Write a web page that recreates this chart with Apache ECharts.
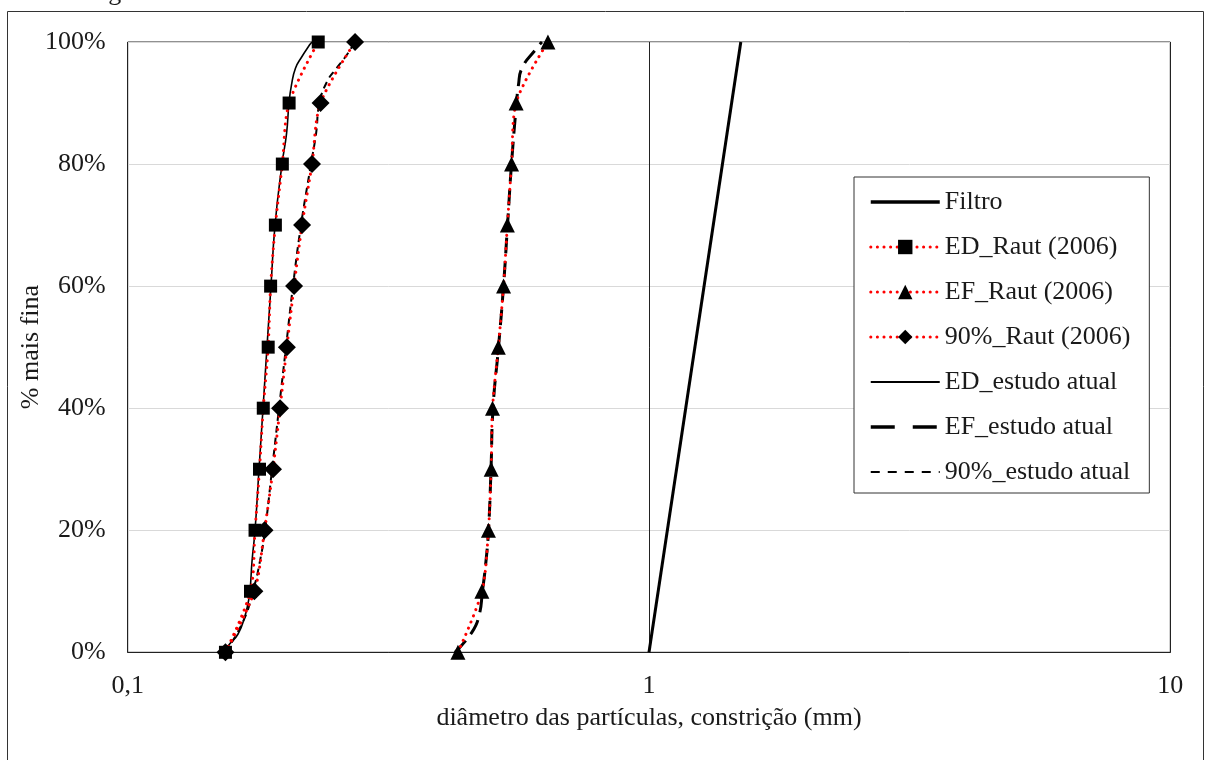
<!DOCTYPE html>
<html>
<head>
<meta charset="utf-8">
<script src="https://cdn.jsdelivr.net/npm/echarts@6/dist/echarts.min.js"></script>
<style>
  html, body { margin: 0; padding: 0; background: #fff; }
  #chart { width: 1206px; height: 760px; }
</style>
</head>
<body>
<div id="chart"></div>
<script>
// % mais fina (eixo y) para as curvas de Raut (2006)
var pctRaut = [0, 10, 20, 30, 40, 50, 60, 70, 80, 90, 100]
// diâmetros (mm)
var edRaut = [0.154, 0.172, 0.1755, 0.179, 0.182, 0.186, 0.188, 0.192, 0.198, 0.204, 0.232]
var efRaut = [0.430, 0.478, 0.492, 0.498, 0.501, 0.514, 0.526, 0.535, 0.545, 0.556, 0.640]
var p90Raut = [0.154, 0.175, 0.183, 0.190, 0.196, 0.202, 0.2085, 0.216, 0.2257, 0.2344, 0.273]

// estudo atual
var edEstudoPct = [0, 1, 3, 6, 8, 10, 15, 20, 30, 40, 50, 60, 70, 80, 85, 90, 93, 95.7, 97.5, 99.5, 100]
var edEstudo = [0.1538, 0.1557, 0.1628, 0.1679, 0.1701, 0.1716, 0.1732, 0.1755, 0.1786, 0.1818, 0.185, 0.1883, 0.1917, 0.1977, 0.2017, 0.2039, 0.2062, 0.2098, 0.2155, 0.2232, 0.2257]
var efEstudoPct = [0, 3.3, 6, 10, 15, 20, 30, 40, 50, 60, 70, 80, 90, 93, 95.6, 99, 100]
var efEstudo = [0.4244, 0.4576, 0.472, 0.4792, 0.4868, 0.4922, 0.4977, 0.5021, 0.5144, 0.5259, 0.5353, 0.5448, 0.557, 0.5619, 0.5699, 0.6089, 0.6233]
var p90EstudoPct = [0, 5, 10, 15, 20, 30, 40, 50, 60, 70, 80, 85, 90, 93.5, 95.7, 97.7, 99.5]
var p90Estudo = [0.1538, 0.1664, 0.1739, 0.1794, 0.1834, 0.1892, 0.1951, 0.2012, 0.2075, 0.215, 0.2247, 0.2298, 0.2333, 0.2412, 0.2515, 0.2623, 0.2705]

// filtro
var filtroPct = [0, 100]
var filtroD = [1, 1.5]

var font = "'Liberation Serif', 'Times New Roman', serif"
var txt = '#1a1a1a'
var fs = 26
// esconde o marcador na legenda das séries só de linha
var soLinha = { opacity: 0 }
var pontilhado = { color: '#ff0000', width: 3, type: [0.1, 6.5], cap: 'round' }

function pares(d, p) {
  return d.map(function(v, i) { return [v, p[i]] })
}

var chart = echarts.init(document.getElementById('chart'))

var option = {
  animation: false,
  backgroundColor: '#fff',
  textStyle: { fontFamily: font, color: txt },
  graphic: [
    {
      type: 'rect',
      shape: { x: 7.5, y: 11.5, width: 1196, height: 760 },
      style: { fill: 'none', stroke: '#333', lineWidth: 1 },
      silent: true
    },
    {
      type: 'text',
      left: 10,
      top: -20,
      style: { text: 'metodologia atual.', font: fs + 'px ' + font, fill: txt },
      silent: true
    }
  ],
  grid: {
    left: 127.7,
    right: 35.7,
    top: 42,
    bottom: 107.7,
    show: true,
    borderColor: '#222',
    borderWidth: 1
  },
  legend: {
    orient: 'vertical',
    left: 854,
    top: 177,
    padding: [12, 19, 8, 15],
    itemGap: 19,
    itemWidth: 69,
    itemHeight: 18,
    borderColor: '#333',
    borderWidth: 1,
    backgroundColor: '#fff',
    textStyle: { fontFamily: font, fontSize: fs, color: txt, lineHeight: 25 },
    data: [
      { name: 'Filtro', itemStyle: soLinha, lineStyle: { width: 3.5 } },
      { name: 'ED_Raut (2006)', lineStyle: { width: 3 } },
      { name: 'EF_Raut (2006)', lineStyle: { width: 3 } },
      { name: '90%_Raut (2006)', lineStyle: { width: 3 } },
      { name: 'ED_estudo atual', itemStyle: soLinha, lineStyle: { width: 2 } },
      { name: 'EF_estudo atual', itemStyle: soLinha, lineStyle: { width: 3.5, type: [24, 18] } },
      { name: '90%_estudo atual', itemStyle: soLinha, lineStyle: { width: 2, type: [9, 8] } }
    ]
  },
  xAxis: {
    type: 'log',
    logBase: 10,
    min: 0.1,
    max: 10,
    name: 'diâmetro das partículas, constrição (mm)',
    nameLocation: 'middle',
    nameGap: 53,
    nameMoveOverlap: false,
    nameTextStyle: { fontFamily: font, fontSize: fs, color: txt },
    axisLine: { show: true, lineStyle: { color: '#222', width: 1 } },
    axisTick: { show: false },
    axisLabel: {
      margin: 21,
      fontFamily: font,
      fontSize: fs,
      color: txt,
      formatter: function(v) {
        return String(Number(v.toPrecision(3))).replace('.', ',')
      }
    },
    splitLine: { show: true, lineStyle: { color: '#222', width: 1 } }
  },
  yAxis: {
    type: 'value',
    min: 0,
    max: 100,
    interval: 20,
    name: '% mais fina',
    nameLocation: 'middle',
    nameGap: 84,
    nameMoveOverlap: false,
    nameRotate: 90,
    nameTextStyle: { fontFamily: font, fontSize: fs, color: txt },
    axisLine: { show: false },
    axisTick: { show: false },
    axisLabel: {
      margin: 22,
      fontFamily: font,
      fontSize: fs,
      color: txt,
      formatter: '{value}%'
    },
    splitLine: { show: true, lineStyle: { color: '#d9d9d9', width: 1 } }
  },
  series: [
    {
      name: 'Filtro',
      type: 'line',
      data: pares(filtroD, filtroPct),
      symbol: 'none',
      lineStyle: { color: '#000', width: 3 },
      itemStyle: { color: '#000' }
    },
    {
      name: 'ED_Raut (2006)',
      type: 'line',
      data: pares(edRaut, pctRaut),
      smooth: 0.3,
      symbol: 'rect',
      symbolSize: 13,
      lineStyle: pontilhado,
      itemStyle: { color: '#000' },
      z: 3
    },
    {
      name: 'EF_Raut (2006)',
      type: 'line',
      data: pares(efRaut, pctRaut),
      smooth: 0.3,
      symbol: 'triangle',
      symbolSize: 15,
      lineStyle: pontilhado,
      itemStyle: { color: '#000' },
      z: 3
    },
    {
      name: '90%_Raut (2006)',
      type: 'line',
      data: pares(p90Raut, pctRaut),
      smooth: 0.3,
      symbol: 'diamond',
      symbolSize: 18,
      lineStyle: pontilhado,
      itemStyle: { color: '#000' },
      z: 3
    },
    {
      name: 'ED_estudo atual',
      type: 'line',
      data: pares(edEstudo, edEstudoPct),
      smooth: 0.5,
      symbol: 'none',
      lineStyle: { color: '#000', width: 1.6 },
      itemStyle: { color: '#000' },
      z: 2
    },
    {
      name: 'EF_estudo atual',
      type: 'line',
      data: pares(efEstudo, efEstudoPct),
      smooth: 0.5,
      symbol: 'none',
      lineStyle: { color: '#000', width: 3, type: [16, 8] },
      itemStyle: { color: '#000' },
      z: 2
    },
    {
      name: '90%_estudo atual',
      type: 'line',
      data: pares(p90Estudo, p90EstudoPct),
      smooth: 0.5,
      symbol: 'none',
      lineStyle: { color: '#000', width: 2, type: [7, 5] },
      itemStyle: { color: '#000' },
      z: 2
    }
  ]
}

chart.setOption(option)
window.addEventListener('resize', function() {
  chart.resize()
})
</script>
</body>
</html>
